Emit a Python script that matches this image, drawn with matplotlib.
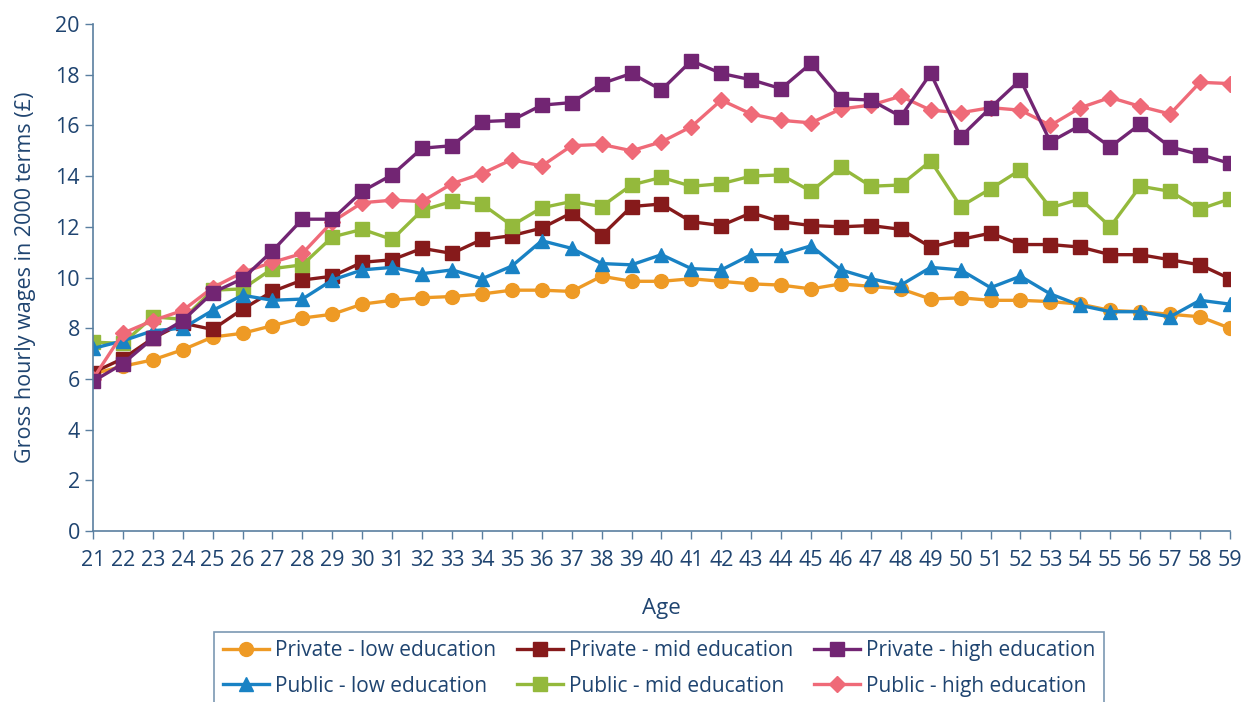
import matplotlib
matplotlib.use("Agg")
import matplotlib.pyplot as plt
from matplotlib import font_manager

ages = list(range(21, 60))

private_low = [6.2, 6.5, 6.75, 7.15, 7.65, 7.8, 8.1, 8.4, 8.55, 8.95, 9.1, 9.2, 9.25, 9.35, 9.5, 9.5, 9.45,
               10.05, 9.85, 9.85, 9.95, 9.85, 9.75, 9.7, 9.55, 9.75, 9.65, 9.55, 9.15, 9.2, 9.1, 9.1, 9.05,
               8.95, 8.7, 8.65, 8.55, 8.45, 8.0]
private_mid = [6.25, 6.8, 7.6, 8.2, 7.95, 8.75, 9.45, 9.9, 10.05, 10.6, 10.7, 11.15, 10.95, 11.5, 11.65, 11.95,
               12.55, 11.65, 12.8, 12.9, 12.2, 12.05, 12.55, 12.2, 12.05, 12.0, 12.05, 11.9, 11.2, 11.5, 11.75,
               11.3, 11.3, 11.2, 10.9, 10.9, 10.7, 10.5, 9.95]
private_high = [5.9, 6.6, 7.6, 8.3, 9.4, 9.95, 11.05, 12.3, 12.3, 13.4, 14.05, 15.1, 15.2, 16.15, 16.2, 16.8,
                16.9, 17.65, 18.05, 17.4, 18.55, 18.05, 17.8, 17.45, 18.45, 17.05, 17.0, 16.35, 18.05, 15.55,
                16.7, 17.8, 15.35, 16.0, 15.15, 16.05, 15.15, 14.85, 14.5]
public_low = [7.2, 7.5, 7.9, 8.0, 8.7, 9.3, 9.1, 9.15, 9.9, 10.3, 10.4, 10.15, 10.3, 9.95, 10.45, 11.45, 11.15,
              10.55, 10.5, 10.9, 10.35, 10.3, 10.9, 10.9, 11.25, 10.3, 9.95, 9.7, 10.4, 10.3, 9.6, 10.05, 9.35,
              8.9, 8.65, 8.65, 8.45, 9.1, 8.95]
public_mid = [7.45, 7.4, 8.45, 8.35, 9.5, 9.55, 10.35, 10.5, 11.6, 11.9, 11.5, 12.65, 13.0, 12.9, 12.05, 12.75,
              13.0, 12.8, 13.65, 13.95, 13.6, 13.7, 14.0, 14.05, 13.4, 14.35, 13.6, 13.65, 14.6, 12.8, 13.5,
              14.25, 12.75, 13.1, 12.0, 13.6, 13.4, 12.7, 13.1]
public_high = [6.0, 7.8, 8.3, 8.7, 9.6, 10.2, 10.6, 10.95, 12.2, 12.95, 13.05, 13.0, 13.7, 14.1, 14.65, 14.4,
               15.2, 15.25, 15.0, 15.35, 15.95, 17.0, 16.45, 16.2, 16.1, 16.65, 16.8, 17.15, 16.6, 16.5, 16.7,
               16.6, 16.0, 16.7, 17.1, 16.75, 16.45, 17.7, 17.65]

labels = ["Private - low education", "Private - mid education", "Private - high education",
          "Public - low education", "Public - mid education", "Public - high education"]

text_color = "#1F4470"
axis_color = "#5A7FA0"

avail = {f.name for f in font_manager.fontManager.ttflist}
fam = "Liberation Sans Narrow" if "Liberation Sans Narrow" in avail else "Open Sans"
plt.rcParams["font.family"] = [fam, "DejaVu Sans"]

fig = plt.figure(figsize=(12.46, 7.02), dpi=100)
ax = fig.add_axes([0.0746, 0.2436, 0.9125, 0.7222])

series = [
    (private_low, "#EE9A25", "o", 10),
    (private_mid, "#861A1B", "s", 9.5),
    (private_high, "#722573", "s", 9.5),
    (public_low, "#1982C4", "^", 10.5),
    (public_mid, "#94B93C", "s", 9.5),
    (public_high, "#EF6A78", "D", 8),
]
draw_order = [0, 1, 4, 3, 5, 2]
handles = [None] * 6
for i in draw_order:
    vals, col, mk, ms = series[i]
    h, = ax.plot(ages, vals, color=col, marker=mk, markersize=ms, linewidth=2.4,
                 markeredgecolor=col, label=labels[i])
    handles[i] = h

ax.set_xlim(21, 59)
ax.set_ylim(0, 20)
ax.set_xticks(ages)
ax.set_xticklabels([str(a) for a in ages])
ax.set_yticks(range(0, 21, 2))

for s in ["top", "right"]:
    ax.spines[s].set_visible(False)
for s in ["left", "bottom"]:
    ax.spines[s].set_color(axis_color)
    ax.spines[s].set_linewidth(1.2)
ax.tick_params(axis="both", colors=axis_color, length=6, width=1.0, labelcolor=text_color, labelsize=15.5)
ax.tick_params(axis="x", pad=8)

ax.set_xlabel("Age", color=text_color, fontsize=16, labelpad=19)
ax.set_ylabel("Gross hourly wages in 2000 terms (£)", color=text_color, fontsize=15.5, labelpad=14)

order = [0, 3, 1, 4, 2, 5]
leg = fig.legend([handles[i] for i in order], [labels[i] for i in order], ncol=3,
                 loc="upper center", bbox_to_anchor=(0.529, 0.1), frameon=True, fancybox=False,
                 fontsize=15, handlelength=2.2, handletextpad=0.3, columnspacing=1.0,
                 labelspacing=0.7, borderpad=0.4, borderaxespad=0)
leg.get_frame().set_edgecolor(axis_color)
leg.get_frame().set_linewidth(1.2)
for t in leg.get_texts():
    t.set_color(text_color)

fig.savefig("out.png", dpi=100)
